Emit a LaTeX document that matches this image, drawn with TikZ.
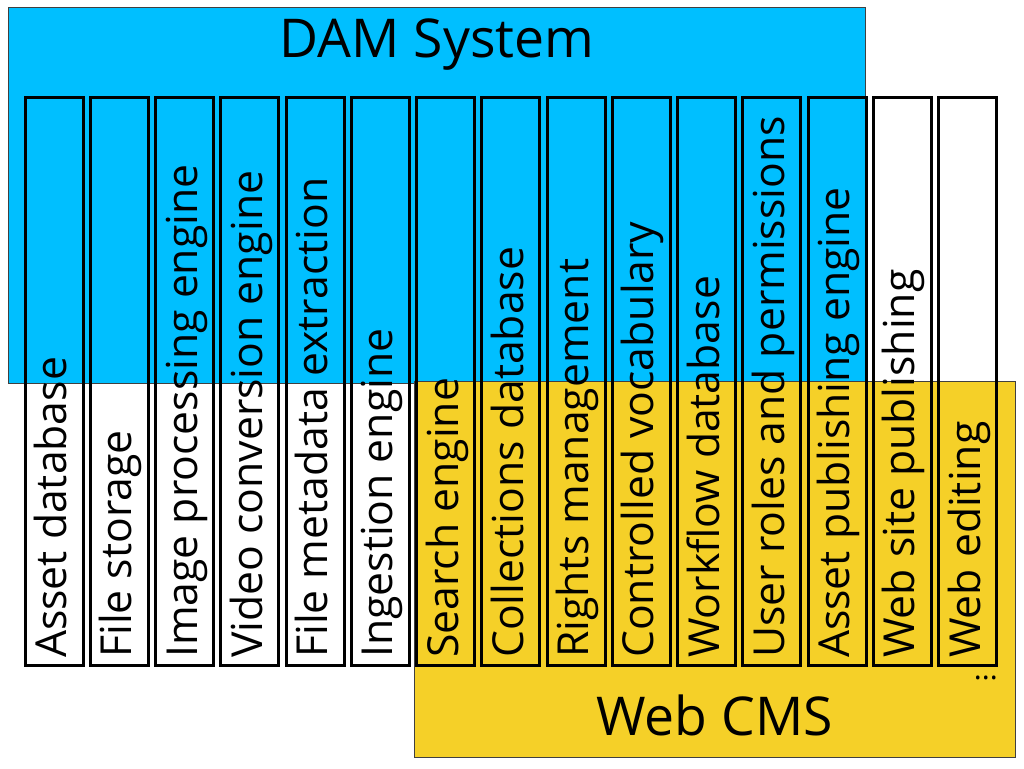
\documentclass[tikz,border=0pt]{standalone}
\usepackage{fontspec}
\setmainfont{Open Sans}
\definecolor{damblue}{RGB}{0,191,255}
\definecolor{cmsyellow}{RGB}{245,208,40}
\tikzset{
  region/.style={draw=black!75, line width=1pt, inner sep=0pt, anchor=north west},
  colbox/.style={draw=black, line width=3pt, inner sep=0pt, anchor=north west,
                 minimum width=58pt, minimum height=568pt},
  coltext/.style={rotate=90, anchor=base west, inner sep=0pt,
                  font=\fontsize{42.7}{46}\selectfont},
  titletext/.style={anchor=base, inner sep=0pt, font=\fontsize{53.5}{57}\selectfont},
  dotstext/.style={anchor=base east, inner sep=0pt, font=\fontsize{30}{32}\selectfont}
}
\begin{document}
\begin{tikzpicture}[x=1pt,y=-1pt]
\useasboundingbox (0,0) rectangle (1024,768);
\node[region, fill=damblue, minimum width=857pt, minimum height=376pt] (dam) at (8,7) {};
\node[region, fill=cmsyellow, minimum width=601pt, minimum height=376pt] (cms) at (414,381) {};
\foreach \i/\t in {0/Asset database,1/File storage,2/Image processing engine,
  3/Video conversion engine,4/File metadata extraction,5/Ingestion engine,
  6/Search engine,7/Collections database,8/Rights management,
  9/Controlled vocabulary,10/Workflow database,11/User roles and permissions,
  12/Asset publishing engine,13/Web site publishing,14/Web editing}{
  \node[colbox] (c\i) at (23.5+65.25*\i,95.5) {};
  \node[coltext] (t\i) at (66.5+65.25*\i,658) {\t};
}
\node[titletext] (damtitle) at (437,57) {DAM System};
\node[titletext] (cmstitle) at (714.5,735) {Web CMS};
\node[dotstext] (dots) at (998,679) {...};
\end{tikzpicture}
\end{document}
